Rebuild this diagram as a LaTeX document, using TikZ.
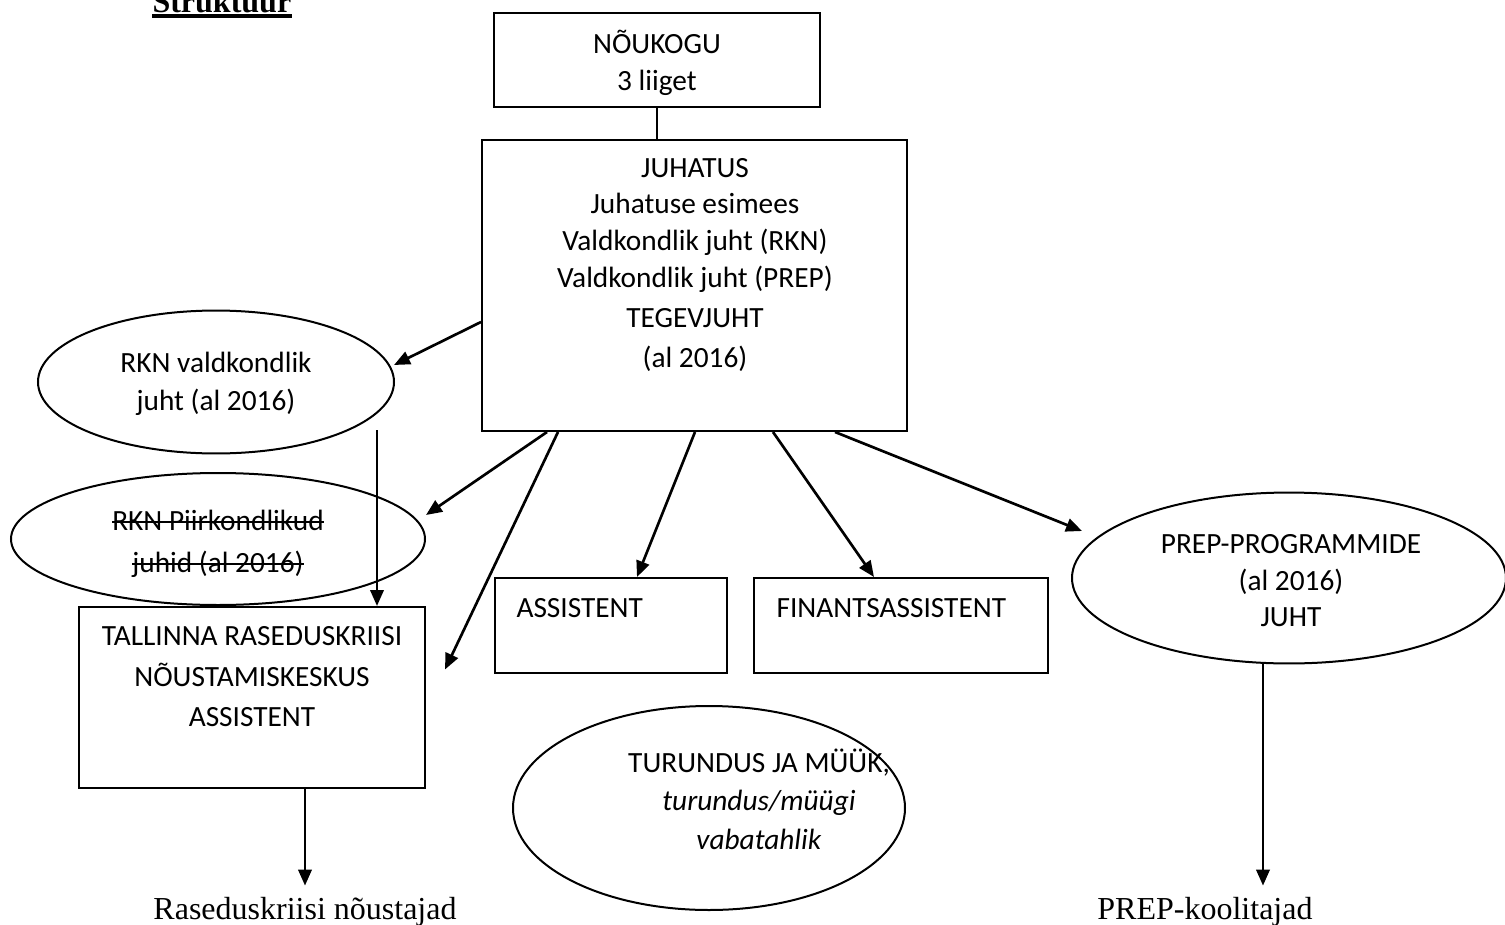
\documentclass[tikz,border=0pt]{standalone}
\usepackage{fontspec}
\setmainfont{Carlito}
\newfontfamily\tnr{Liberation Serif}
\newsavebox\strkbox
\newcommand{\mystrike}[1]{\sbox\strkbox{#1}\rlap{\usebox\strkbox}\rule[0.25em]{\wd\strkbox}{0.065em}}
\usetikzlibrary{arrows.meta,shapes.geometric,calc,fit}
\begin{document}
\begin{tikzpicture}[x=0.375pt, y=-0.375pt,
  box/.style={draw, line width=0.75pt, inner sep=0pt},
  oval/.style={draw, ellipse, line width=0.75pt, inner sep=0pt},
  txt/.style={align=center, inner sep=0pt, font=\fontsize{11}{#1}\selectfont},
  txt/.default=13.7pt,
  serif/.style={inner sep=4pt, font=\tnr\fontsize{12}{14}\selectfont},
  arr/.style={line width=1pt, -{Triangle[length=6pt,width=5pt]}},
  ln/.style={line width=0.75pt}]
\useasboundingbox (0,0) rectangle (1505,925);
\fill[white] (0,0) rectangle (1505,925);
\clip (0,0) rectangle (1505,925);

% title
\node[anchor=base west, inner sep=0pt, font=\tnr\bfseries\fontsize{12}{14}\selectfont] (title) at (152,12) {Struktuur};
\draw[line width=1.3pt] ([yshift=-1.5pt]title.base west) -- ([yshift=-1.5pt]title.base east);

% boxes
\node[box, fit={(494,13) (820,107)}] (nouk) {};
\node[txt] (noukT) at (657,63) {NÕUKOGU\\3 liiget};

\node[box, fit={(482,140) (907,431)}] (juh) {};
\node[txt] (juhT) at (695,265) {JUHATUS\\Juhatuse esimees\\Valdkondlik juht (RKN)\\Valdkondlik juht (PREP)\\[1.3pt]TEGEVJUHT\\[1.5pt](al 2016)};

\node[box, fit={(79,607) (425,788)}] (tall) {};
\node[txt=15.2pt] (tallT) at (252,677) {TALLINNA RASEDUSKRIISI\\NÕUSTAMISKESKUS\\ASSISTENT};

\node[box, fit={(495,578) (727,673)}] (asst) {};
\node[txt, anchor=base west] (asstT) at (516,617) {ASSISTENT};

\node[box, fit={(754,578) (1048,673)}] (fin) {};
\node[txt, anchor=base west] (finT) at (776,617) {FINANTSASSISTENT};

% ellipses
\node[oval, minimum width=133.5pt, minimum height=53.6pt] (rknv) at (216,382) {};
\node[txt=14.25pt] (rknvT) at (216,384) {RKN valdkondlik\\juht (al 2016)};

\node[oval, minimum width=155.25pt, minimum height=49.5pt] (rknp) at (218,539) {};
\node[txt=15.75pt] (rknpT) at (218,544) {\mystrike{RKN Piirkondlikud}\\\mystrike{juhid (al 2016)}};

\node[oval, minimum width=162.75pt, minimum height=64.1pt] (prep) at (1289,578) {};
\node[txt] (prepT) at (1291,581) {PREP-PROGRAMMIDE\\(al 2016)\\JUHT};

\node[oval, minimum width=147pt, minimum height=76.5pt] (tur) at (709,808) {};
\node[txt=14.4pt] (turT) at (759,799) {TURUNDUS JA MÜÜK,\\\textit{turundus/müügi}\\\textit{vabatahlik}};

% bottom labels
\node[serif, anchor=base] (rasT) at (305,919) {Raseduskriisi nõustajad};
\node[serif, anchor=base] (koolT) at (1205,919) {PREP-koolitajad};

% connectors
\draw[ln] (nouk.south) -- (nouk.south |- juh.north);
\draw[arr] ($(juh.north west)+(0,183)$) -- ($(rknv.east)+(-1,-17)$);
\draw[arr] ($(juh.south west)+(66,0)$) -- ($(rknp.east)+(0,-24)$);
\draw[arr] ($(juh.south west)+(77,0)$) -- ($(tall.east)+(19,-28)$);
\draw[arr] ($(juh.south west)+(214,0)$) -- ($(asst.north west)+(143,0)$);
\draw[arr] ($(juh.south west)+(292,0)$) -- ($(fin.north west)+(121,0)$);
\draw[arr] ($(juh.south west)+(354,0)$) -- ($(prep.west)+(11,-47)$);
\coordinate (vs) at (377,430);
\draw[arr] (vs) -- (vs |- tall.north);
\draw[arr] (rasT.north |- tall.south) -- (rasT.north);
\coordinate (ps) at ($(prep.south)+(-26,0)$);
\draw[arr] (ps) -- (ps |- koolT.north);
\end{tikzpicture}
\end{document}
